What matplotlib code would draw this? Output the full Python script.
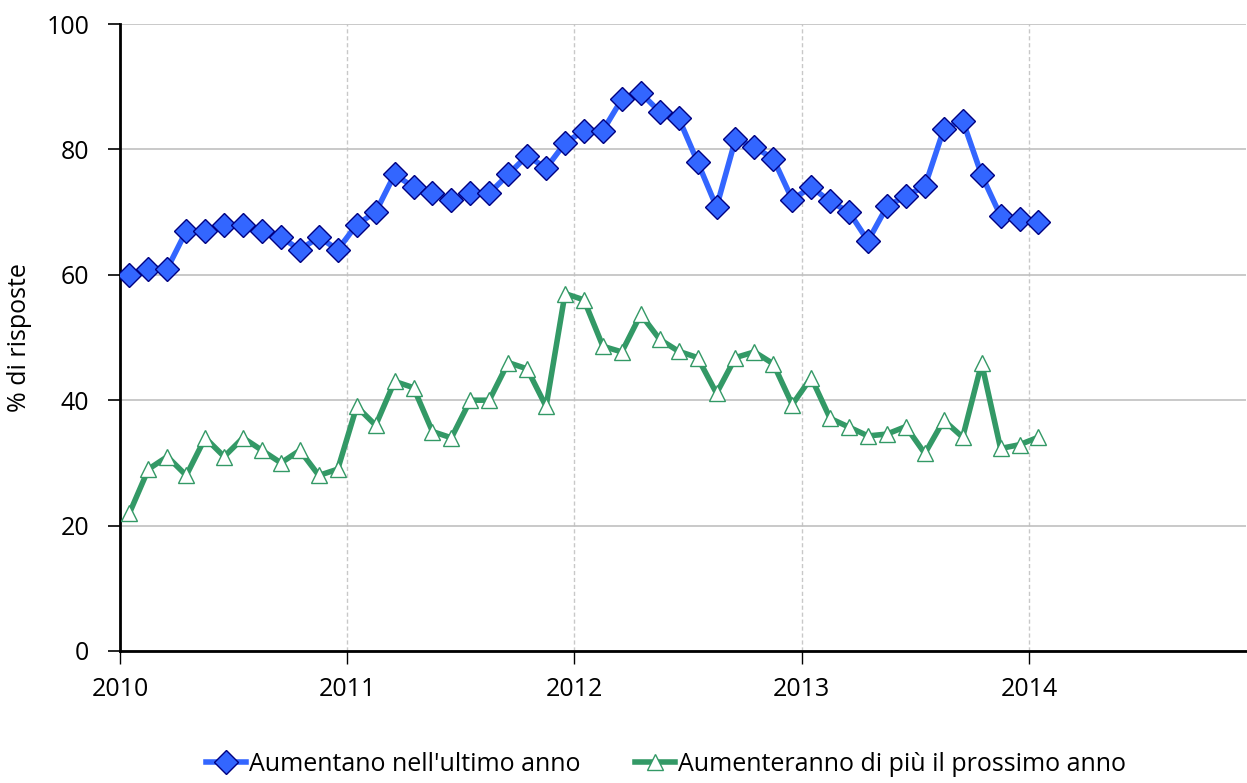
import numpy as np
import matplotlib
matplotlib.use("Agg")
import matplotlib.pyplot as plt
from matplotlib.ticker import MultipleLocator

plt.rcParams['font.family'] = ['Open Sans', 'DejaVu Sans']

# monthly observations, Jan 2010 .. Jan 2014
start_year = 2010
n_months = 49

aumentano = [60, 61, 61, 67, 67, 68, 68, 67, 66, 64, 66, 64,
             68, 70, 76, 74, 73, 72, 73, 73, 76, 79, 77, 81,
             83, 83, 88, 89, 86, 85, 78, 70.8, 81.6, 80.4, 78.5, 72,
             74, 71.7, 70, 65.4, 70.9, 72.6, 74.1, 83.2, 84.6, 75.9, 69.4, 68.9,
             68.5]
aumenteranno = [22, 29, 31, 28, 34, 31, 34, 32, 30, 32, 28, 29,
                39, 36, 43, 42, 35, 34, 40, 40, 46, 45, 39, 57,
                56, 48.6, 47.7, 53.7, 49.7, 47.8, 46.8, 41.1, 46.8, 47.7, 45.8, 39.3,
                43.6, 37.1, 35.7, 34.3, 34.6, 35.8, 31.5, 36.8, 34.1, 45.9, 32.3, 32.9,
                34.1]
year_ticks = [2010, 2011, 2012, 2013, 2014]
labels = ["Aumentano nell'ultimo anno", "Aumenteranno di più il prossimo anno"]

# mid-month positions in decimal years
x = start_year + (np.arange(n_months) + 0.5) / 12.0

fig = plt.figure(figsize=(12.47, 7.83), dpi=100)
ax = fig.add_axes([120/1247, 132/783, 1126/1247, 627/783])

ax.plot(x, aumentano, color='#3366ff', lw=4, marker='D', ms=12.5,
        mfc='#3366ff', mec='#000080', mew=1.0, label=labels[0], zorder=3)
ax.plot(x, aumenteranno, color='#339966', lw=4, marker='^', ms=12,
        mfc='white', mec='#339966', mew=1.0, label=labels[1], zorder=3)

ax.set_xlim(2010, 2014.955)
ax.set_ylim(0, 100)
ax.set_xticks(year_ticks)
ax.set_xticklabels([str(y) for y in year_ticks])
ax.yaxis.set_major_locator(MultipleLocator(20))

ax.grid(axis='y', color='#c0c0c0', lw=1.2)
ax.grid(axis='x', color='#c8c8c8', lw=1.0, ls=(0, (3, 2)))
ax.set_axisbelow(True)

for s in ['top', 'right']:
    ax.spines[s].set_visible(False)
for s in ['left', 'bottom']:
    ax.spines[s].set_linewidth(2)
    ax.spines[s].set_color('black')

ax.tick_params(axis='y', direction='out', length=9, width=1.2, labelsize=18, pad=13)
ax.tick_params(axis='x', direction='out', length=9, width=1.0, labelsize=18, pad=10)
ax.set_ylabel('% di risposte', fontsize=18)
ax.yaxis.set_label_coords(-0.078, 0.5)

ax.legend(loc='upper center', bbox_to_anchor=(0.485, -0.125), ncol=2, frameon=False,
          fontsize=18, handlelength=1.6, handletextpad=0.1, columnspacing=2.2)

fig.savefig('out.png', dpi=100)
